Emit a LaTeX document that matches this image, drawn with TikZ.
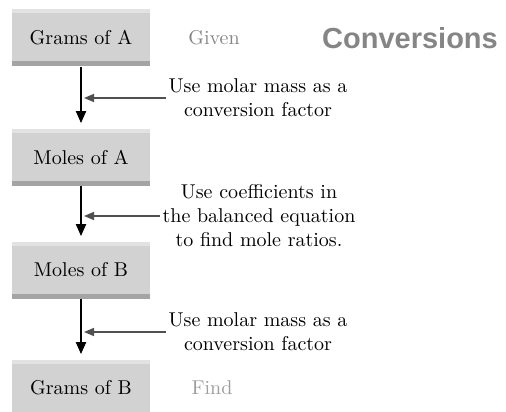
\documentclass[tikz,border=0pt]{standalone}
\usepackage{fontspec}
\newfontfamily\headfont{Liberation Sans}
\usetikzlibrary{positioning, arrows.meta, calc}
\definecolor{boxfill}{HTML}{D2D2D2}
\definecolor{boxedge}{HTML}{A4A4A4}
\definecolor{boxtop}{HTML}{E2E2E2}
\definecolor{labelgray}{HTML}{858585}
\definecolor{sidegray}{HTML}{505050}

\begin{document}
\begin{tikzpicture}[x=0.5pt, y=-0.5pt,
          qty/.style={fill=boxfill, minimum width=69pt, minimum height=28.5pt, inner sep=0pt, font=\normalsize,
            path picture={
              \fill[boxedge] (path picture bounding box.south west) rectangle ([yshift=2.5pt]path picture bounding box.south east);
              \fill[boxtop] (path picture bounding box.north west) rectangle ([yshift=-2pt]path picture bounding box.north east);}},
          note/.style={align=center, font=\normalsize, inner sep=1pt},
          tag/.style={text=labelgray, font=\normalsize},
          step arrow/.style={-{Triangle[length=6pt, width=5pt]}, line width=1pt, shorten >=2.5pt},
          side arrow/.style={-{Triangle[length=5pt, width=4pt]}, line width=0.8pt, draw=sidegray, shorten >=1.5pt}]
        \useasboundingbox (0,0) rectangle (506,411);
        \clip (0,0) rectangle (506,411);
        % the four quantities
        \node[qty] (gA) at (81,38) {Grams of A};
        \node[qty] (mA) at (81,157) {Moles of A};
        \node[qty] (mB) at (81,270) {Moles of B};
        \node[qty] (gB) at (81,388) {Grams of B};
        \node[tag] (given) at (214,38) {Given};
        \node[tag, text=labelgray!80] (find) at (212,388) {Find};
        \node[text=labelgray, font=\headfont\bfseries\fontsize{14.5}{17}\selectfont] (title) at (410,38) {Conversions};
        % what is used at each step
        \node[note] (n1) at (258,98) {Use molar mass as a\\conversion factor};
        \node[note] (n2) at (259,216) {Use coefficients in\\the balanced equation\\to find mole ratios.};
        \node[note] (n3) at (258,332) {Use molar mass as a\\conversion factor};
        \draw[step arrow] (gA) -- (mA);
        \draw[step arrow] (mA) -- (mB);
        \draw[step arrow] (mB) -- (gB);
        \draw[side arrow] (n1.west) -- (n1.west -| gA.south);
        \draw[side arrow] (n2.west) -- (n2.west -| mA.south);
        \draw[side arrow] (n3.west) -- (n3.west -| mB.south);
      \end{tikzpicture}
\end{document}
